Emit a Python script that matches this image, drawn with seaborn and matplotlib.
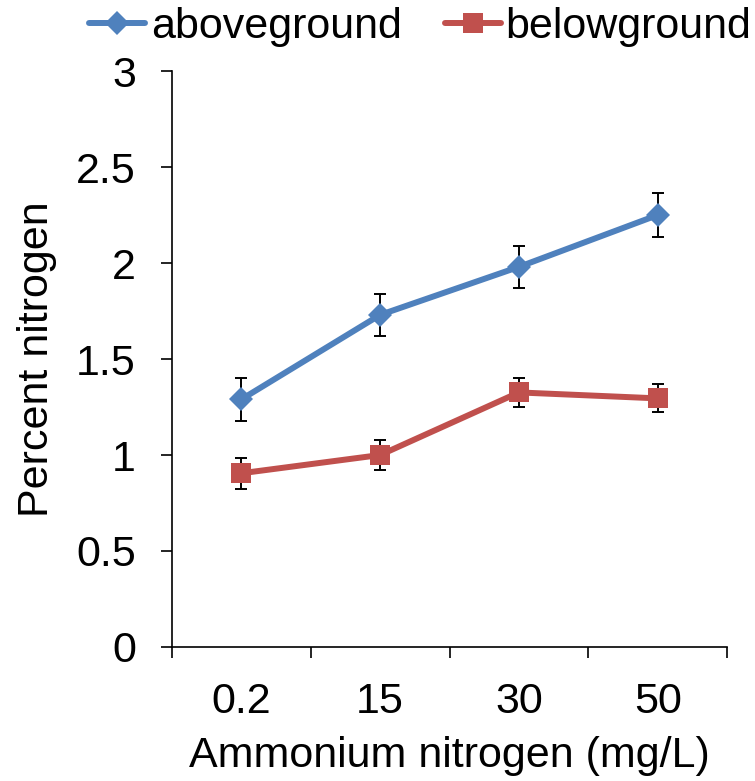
import pandas as pd
import seaborn as sns
import matplotlib.pyplot as plt
from matplotlib.ticker import FixedLocator

## data --------------------------------------------------------------------------------------

concentrations = ['0.2', '15', '30', '50']
above_mean = [1.29, 1.73, 1.98, 2.25]
above_err = [0.113, 0.108, 0.108, 0.115]
below_mean = [0.905, 1.00, 1.326, 1.295]
below_err = [0.082, 0.078, 0.077, 0.073]

above = pd.DataFrame({'conc': concentrations, 'pct': above_mean, 'err': above_err})
below = pd.DataFrame({'conc': concentrations, 'pct': below_mean, 'err': below_err})

## plot --------------------------------------------------------------------------------------

sns.set_style('ticks')
plt.rcParams['font.family'] = ['Liberation Sans', 'DejaVu Sans']
plt.rcParams['text.color'] = 'black'
plt.rcParams['axes.labelcolor'] = 'black'
plt.rcParams['xtick.color'] = 'black'
plt.rcParams['ytick.color'] = 'black'
fs = 31

f = plt.figure(figsize=(7.55, 7.81), dpi=100)
ax = f.add_axes([0.2278, 0.1716, 0.963 - 0.2278, 0.909 - 0.1716])

blue, red = '#4F81BD', '#C0504D'

for df, color, marker, ms, label in [(above, blue, 'D', 12.5, 'aboveground'),
                                     (below, red, 's', 14.5, 'belowground')]:
    ax.errorbar(df['conc'], df['pct'], yerr=df['err'], fmt='none', ecolor='black',
                elinewidth=1.4, capsize=4.6, capthick=1.4, zorder=2)
    sns.lineplot(data=df, x='conc', y='pct', sort=False, color=color, linewidth=4.3,
                 marker=marker, markersize=ms, markeredgecolor=color, markeredgewidth=0,
                 label=label, ax=ax, zorder=3)

ax.set_ylim(0, 3)
ax.set_xlim(-0.5, 3.5)
ax.set_yticks([0, 0.5, 1, 1.5, 2, 2.5, 3])
ax.set_yticklabels(['0', '0.5', '1', '1.5', '2', '2.5', '3'])
ax.xaxis.set_minor_locator(FixedLocator([-0.5, 0.5, 1.5, 2.5, 3.5]))
ax.tick_params(axis='x', which='major', length=0, pad=25, labelsize=fs)
ax.tick_params(axis='x', which='minor', length=8, width=1.2, direction='out')
ax.tick_params(axis='y', length=8, width=1.2, direction='out', pad=18, labelsize=fs)

for side in ['top', 'right']:
    ax.spines[side].set_visible(False)
for side in ['left', 'bottom']:
    ax.spines[side].set_linewidth(1.2)
    ax.spines[side].set_color('black')

ax.set_xlabel('Ammonium nitrogen (mg/L)', fontsize=fs, labelpad=10)
ax.set_ylabel('Percent nitrogen', fontsize=fs, labelpad=14)

handles, labels = ax.get_legend_handles_labels()
ax.get_legend().remove()
f.legend(handles, labels, loc='center', bbox_to_anchor=(0.557, 0.965), ncol=2,
         frameon=False, fontsize=fs, handlelength=1.3, handletextpad=0.12,
         columnspacing=1.0, borderaxespad=0)

f.savefig('out.png', dpi=100)
